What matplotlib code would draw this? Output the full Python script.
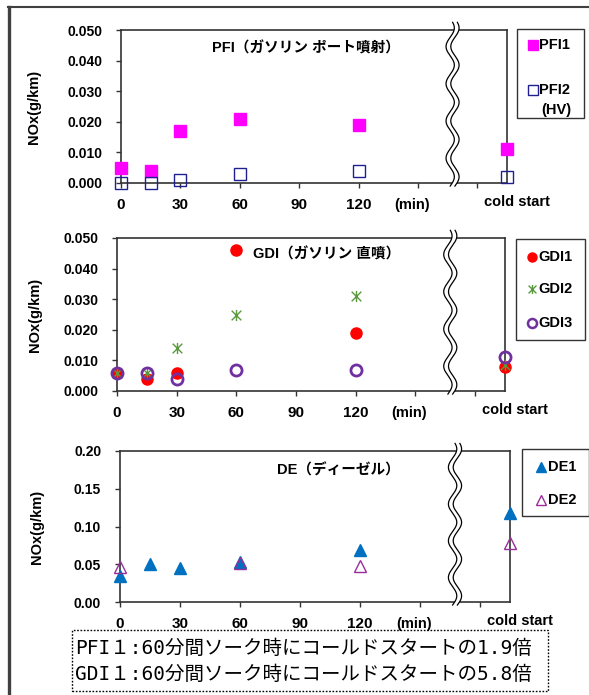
import numpy as np
import matplotlib
matplotlib.use("Agg")
import matplotlib.pyplot as plt
from matplotlib.patches import Rectangle
from matplotlib.lines import Line2D
from matplotlib.path import Path
import matplotlib.transforms as mtrans

# ---------------- data ----------------
soak_min = [0, 15, 30, 60, 120]          # soak time (min)
cold_label = "cold start"
x_ticks = [0, 30, 60, 90, 120, 150, 180]
x_ticklabels = ["0", "30", "60", "90", "120", "", ""]

pfi1 = [0.005, 0.004, 0.017, 0.021, 0.019, 0.011]
pfi2 = [0.000, 0.000, 0.001, 0.003, 0.004, 0.002]

gdi1 = [0.006, 0.004, 0.006, 0.046, 0.019, 0.008]
gdi2 = [0.006, 0.006, 0.014, 0.025, 0.031, 0.0085]
gdi3 = [0.006, 0.006, 0.004, 0.007, 0.007, 0.011]

de1 = [0.035, 0.050, 0.045, 0.053, 0.069, 0.118]
de2 = [0.046, np.nan, np.nan, 0.051, 0.048, 0.078]

pfi_yticks = [0.0, 0.01, 0.02, 0.03, 0.04, 0.05]
gdi_yticks = [0.0, 0.01, 0.02, 0.03, 0.04, 0.05]
de_yticks = [0.0, 0.05, 0.10, 0.15, 0.20]

titles = ["PFI（ガソリン ポート噴射）", "GDI（ガソリン 直噴）", "DE（ディーゼル）"]
note_lines = ["PFI１:60分間ソーク時にコールドスタートの1.9倍",
              "GDI１:60分間ソーク時にコールドスタートの5.8倍"]

# ---------------- layout constants ----------------
W, H = 589, 695
X_MAX = 195          # axis position of the "cold start" column
BREAK_AT = 167.5     # position of the axis break squiggle
xs = soak_min + [X_MAX]

LAT = ["Liberation Sans", "Noto Sans CJK JP"]
plt.rcParams["font.family"] = LAT

fig = plt.figure(figsize=(W / 100, H / 100), dpi=100)


def frac(l, t, r, b):
    return [l / W, 1 - b / H, (r - l) / W, (b - t) / H]


def fx(x):
    return x / W


def fy(y):
    return 1 - y / H


# outer frame (left and top edges visible)
fig.add_artist(Line2D([fx(9), fx(9)], [fy(7), fy(700)], color="#404040", lw=2.4))
fig.add_artist(Line2D([fx(8), fx(600)], [fy(6.5), fy(6.5)], color="#404040", lw=1.5))

star_path = Path([(-1, -1), (1, 1), (-1, 1), (1, -1), (0, -1.15), (0, 1.15)],
                 [Path.MOVETO, Path.LINETO, Path.MOVETO, Path.LINETO, Path.MOVETO, Path.LINETO])


def setup_axes(ax, yticks, fmt, ylim, label_cx):
    ax.set_xlim(0, X_MAX)
    ax.set_ylim(*ylim)
    ax.set_xticks(x_ticks)
    ax.set_xticklabels(x_ticklabels)
    ax.set_yticks(yticks)
    ax.set_yticklabels([fmt.format(v) for v in yticks])
    for lab in ax.get_xticklabels():
        lab.set_fontweight("bold")
        lab.set_fontsize(11)
    for lab in ax.get_yticklabels():
        lab.set_fontweight("bold")
        lab.set_fontsize(10)
    ax.tick_params(axis="x", direction="out", length=3.5, width=1, pad=7, color="#333333")
    ax.tick_params(axis="y", direction="out", length=3.5, width=1, pad=10, color="#333333")
    for sp in ax.spines.values():
        sp.set_color("#333333")
        sp.set_linewidth(1.2)
    # y label centred at a given pixel x
    bb = ax.get_position()
    fig.text(fx(label_cx), bb.y0 + bb.height / 2, "NOx(g/km)", rotation=90,
             ha="center", va="center", fontsize=10.5, fontweight="bold")
    tr = mtrans.blended_transform_factory(ax.transData, ax.transAxes)
    ax.text(147, -0.145, "(min)", transform=tr, ha="center", va="center",
            fontsize=10.5, fontweight="bold")
    ax.text(200, -0.125, cold_label, transform=tr, ha="center", va="center",
            fontsize=10.5, fontweight="bold")
    # axis break squiggle
    yy = np.linspace(-0.02, 1.05, 300)
    amp, half = 2.1, 1.2
    wave = amp * np.sin(2 * np.pi * 4.4 * (yy + 0.02) / 1.07)
    xl = BREAK_AT - half + wave
    xr = BREAK_AT + half + wave
    ax.fill(np.concatenate([xl, xr[::-1]]), np.concatenate([yy, yy[::-1]]),
            color="white", transform=tr, clip_on=False, zorder=3, lw=0)
    ax.plot(xl, yy, color="black", lw=0.9, transform=tr, clip_on=False, zorder=3.1)
    ax.plot(xr, yy, color="black", lw=0.9, transform=tr, clip_on=False, zorder=3.1)


def legend_box(l, t, r, b, entries):
    fig.add_artist(Rectangle((fx(l), fy(b)), fx(r - l), (b - t) / H,
                             transform=fig.transFigure, fill=False,
                             edgecolor="#333333", lw=1.0))
    for (mx, my, style, text, tx) in entries:
        fig.add_artist(Line2D([fx(mx)], [fy(my)], linestyle="none",
                              transform=fig.transFigure, **style))
        fig.text(fx(tx), fy(my), text, ha="left", va="center",
                 fontsize=10.5, fontweight="bold")


# ---------------- panel 1: PFI ----------------
ax1 = fig.add_axes(frac(121, 30, 507, 183))
s_pfi1 = dict(marker="s", markersize=8, color="#FF00FF", markeredgecolor="#FF00FF")
s_pfi2 = dict(marker="s", markersize=8, markerfacecolor="none",
              markeredgecolor="#1F1F8F", markeredgewidth=1.0)
ax1.plot(xs, pfi1, linestyle="none", clip_on=False, zorder=5, **s_pfi1)
ax1.plot(xs, pfi2, linestyle="none", clip_on=False, zorder=5, **s_pfi2)
setup_axes(ax1, pfi_yticks, "{:.3f}", (0, 0.05), 34)
fig.text(fx(400), fy(48), titles[0], ha="right", va="center", fontsize=10.5, fontweight="bold")
legend_box(517, 29, 584, 118, [
    (533, 45, dict(s_pfi1, markersize=6.5), "PFI1", 539),
    (533, 90, dict(s_pfi2, markersize=6.5), "PFI2", 539),
])
fig.text(fx(541), fy(110), "(HV)", ha="left", va="center", fontsize=10.5, fontweight="bold")

# ---------------- panel 2: GDI ----------------
ax2 = fig.add_axes(frac(117, 238, 505, 391))
s_gdi1 = dict(marker="o", markersize=8, color="#FF0000", markeredgecolor="#FF0000")
s_gdi2 = dict(marker=star_path, markersize=8, color="#5A9A3C", markeredgecolor="#5A9A3C",
              markeredgewidth=1.0, markerfacecolor="none")
s_gdi3 = dict(marker="o", markersize=8, markerfacecolor="none",
              markeredgecolor="#7030A0", markeredgewidth=2.0)
ax2.plot(xs, gdi1, linestyle="none", clip_on=False, zorder=5, **s_gdi1)
ax2.plot(xs, gdi2, linestyle="none", clip_on=False, zorder=5, **s_gdi2)
ax2.plot(xs, gdi3, linestyle="none", clip_on=False, zorder=5, **s_gdi3)
setup_axes(ax2, gdi_yticks, "{:.3f}", (0, 0.05), 35)
fig.text(fx(400), fy(254), titles[1], ha="right", va="center", fontsize=10.5, fontweight="bold")
legend_box(516, 239, 585, 340, [
    (532, 257, dict(s_gdi1, markersize=6.5), "GDI1", 538),
    (532, 289, dict(s_gdi2, markersize=6.5), "GDI2", 538),
    (532, 323, dict(s_gdi3, markersize=6.5, markeredgewidth=1.8), "GDI3", 538),
])

# ---------------- panel 3: DE ----------------
ax3 = fig.add_axes(frac(120, 451, 510, 602))
s_de1 = dict(marker="^", markersize=8.5, color="#0070C0", markeredgecolor="#0070C0")
s_de2 = dict(marker="^", markersize=8.5, markerfacecolor="none",
             markeredgecolor="#9B2D9B", markeredgewidth=1.0)
ax3.plot(xs, de1, linestyle="none", clip_on=False, zorder=5, **s_de1)
ax3.plot(xs, de2, linestyle="none", clip_on=False, zorder=5, **s_de2)
setup_axes(ax3, de_yticks, "{:.2f}", (0, 0.20), 37)
fig.text(fx(400), fy(470), titles[2], ha="right", va="center", fontsize=10.5, fontweight="bold")
legend_box(522, 449, 589, 516, [
    (541, 467, dict(s_de1, markersize=7), "DE1", 548),
    (541, 500, dict(s_de2, markersize=7), "DE2", 548),
])

# ---------------- note box ----------------
fig.add_artist(Rectangle((fx(72), fy(691)), fx(548 - 72), (691 - 630) / H,
                         transform=fig.transFigure, fill=False, edgecolor="black",
                         lw=1.0, linestyle=(0, (1.2, 1.2))))
NOTE_FONT = ["DejaVu Sans Mono", "Noto Sans CJK JP"]
fig.text(fx(75), fy(648), note_lines[0], ha="left", va="center", fontsize=14,
         family=NOTE_FONT)
fig.text(fx(75), fy(674), note_lines[1], ha="left", va="center", fontsize=14,
         family=NOTE_FONT)

fig.savefig("out.png", dpi=100)
